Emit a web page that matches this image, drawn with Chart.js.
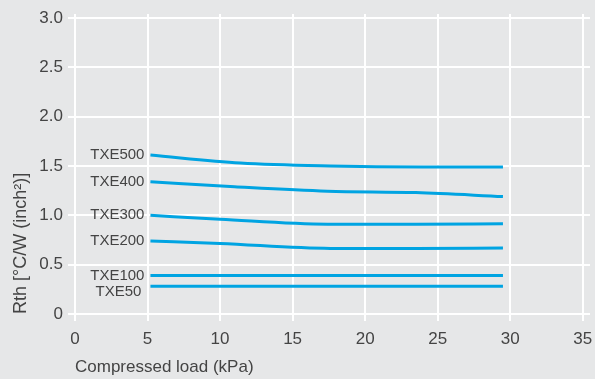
<!DOCTYPE html>
<html>
<head>
<meta charset="utf-8">
<script src="https://cdn.jsdelivr.net/npm/chart.js@4.4.1/dist/chart.umd.min.js"></script>
<style>
  html, body { margin: 0; padding: 0; background: #e6e7e8; }
  #wrap { width: 595px; height: 379px; }
</style>
</head>
<body>
<div id="wrap"><canvas id="c" width="595" height="379"></canvas></div>
<script>
// Thermal resistance vs compressed load for each TXE grade
const seriesNames = ['TXE500', 'TXE400', 'TXE300', 'TXE200', 'TXE100', 'TXE50'];

const loadTXE500 = [5.2, 11.4, 17.6, 24, 29.5];
const rthTXE500  = [1.61, 1.53, 1.50, 1.49, 1.49];

const loadTXE400 = [5.2, 11, 17.4, 23.5, 29.5];
const rthTXE400  = [1.34, 1.29, 1.245, 1.23, 1.19];

const loadTXE300 = [5.2, 10, 17.4, 23.5, 29.5];
const rthTXE300  = [1.00, 0.96, 0.91, 0.91, 0.915];

const loadTXE200 = [5.2, 10, 17.6, 23.5, 29.5];
const rthTXE200  = [0.74, 0.715, 0.665, 0.665, 0.668];

const loadTXE100 = [5.2, 29.5];
const rthTXE100  = [0.39, 0.39];

const loadTXE50 = [5.2, 29.5];
const rthTXE50  = [0.28, 0.28];

const xTicks = [0, 5, 10, 15, 20, 25, 30, 35];
const yTicks = [0, 0.5, 1.0, 1.5, 2.0, 2.5, 3.0];
const yTickLabels = ['0', '0.5', '1.0', '1.5', '2.0', '2.5', '3.0'];

const xTitle = 'Compressed load (kPa)';
const yTitle = 'Rth [°C/W (inch²)]';

const loads = [loadTXE500, loadTXE400, loadTXE300, loadTXE200, loadTXE100, loadTXE50];
const rths  = [rthTXE500, rthTXE400, rthTXE300, rthTXE200, rthTXE100, rthTXE50];

const LINE = '#00a4e2';
const TEXT = '#444444';
const FONT = "'Liberation Sans', Arial, Helvetica, sans-serif";

const datasets = seriesNames.map((name, i) => ({
  label: name,
  data: loads[i].map((x, j) => ({ x: x, y: rths[i][j] })),
  borderColor: LINE,
  borderWidth: 3,
  pointRadius: 0,
  fill: false,
  cubicInterpolationMode: 'monotone',
  borderCapStyle: 'butt'
}));

// Series names written to the left of each curve's first point
const seriesLabels = {
  id: 'seriesLabels',
  afterDatasetsDraw(chart) {
    const ctx = chart.ctx;
    const xs = chart.scales.x, ys = chart.scales.y;
    ctx.save();
    ctx.font = '15px ' + FONT;
    ctx.fillStyle = TEXT;
    ctx.textAlign = 'right';
    ctx.textBaseline = 'middle';
    chart.data.datasets.forEach((ds) => {
      const p = ds.data[0];
      const small = ds.label === 'TXE50';
      ctx.fillText(ds.label, xs.getPixelForValue(p.x) - (small ? 9 : 6), ys.getPixelForValue(p.y) + (small ? 5 : 0));
    });
    ctx.restore();
  }
};

new Chart(document.getElementById('c'), {
  type: 'line',
  data: { datasets: datasets },
  options: {
    responsive: false,
    animation: false,
    events: [],
    layout: { padding: { top: 14, right: 5, left: 0, bottom: 0 } },
    plugins: { legend: { display: false }, tooltip: { enabled: false } },
    scales: {
      x: {
        type: 'linear',
        min: 0,
        max: 35.5,
        afterBuildTicks(scale) { scale.ticks = xTicks.map(v => ({ value: v })); },
        afterFit(scale) { scale.height = 65; scale.paddingLeft = 0; scale.paddingRight = 0; },
        border: { display: false },
        grid: { color: '#ffffff', lineWidth: 2, drawTicks: true, tickLength: 7, tickColor: '#ffffff' },
        ticks: { color: TEXT, font: { family: FONT, size: 17 }, padding: 8, maxRotation: 0 },
        title: {
          display: true, text: xTitle, align: 'start', color: TEXT,
          font: { family: FONT, size: 17 }, padding: { top: 0, bottom: 1 }
        }
      },
      y: {
        type: 'linear',
        min: 0,
        max: 3.04,
        afterBuildTicks(scale) { scale.ticks = yTicks.map(v => ({ value: v })); },
        afterFit(scale) { scale.width = 75; scale.paddingTop = 0; scale.paddingBottom = 0; },
        border: { display: false },
        grid: { color: '#ffffff', lineWidth: 2, drawTicks: true, tickLength: 7, tickColor: '#ffffff' },
        ticks: {
          color: TEXT, font: { family: FONT, size: 17 }, padding: 5,
          callback: (v) => { const k = yTicks.indexOf(v); return k >= 0 ? yTickLabels[k] : ''; }
        },
        title: {
          display: true, text: yTitle, align: 'start', color: TEXT,
          font: { family: FONT, size: 18 }, padding: { top: 10, bottom: 0 }
        }
      }
    }
  },
  plugins: [seriesLabels]
});
</script>
</body>
</html>
